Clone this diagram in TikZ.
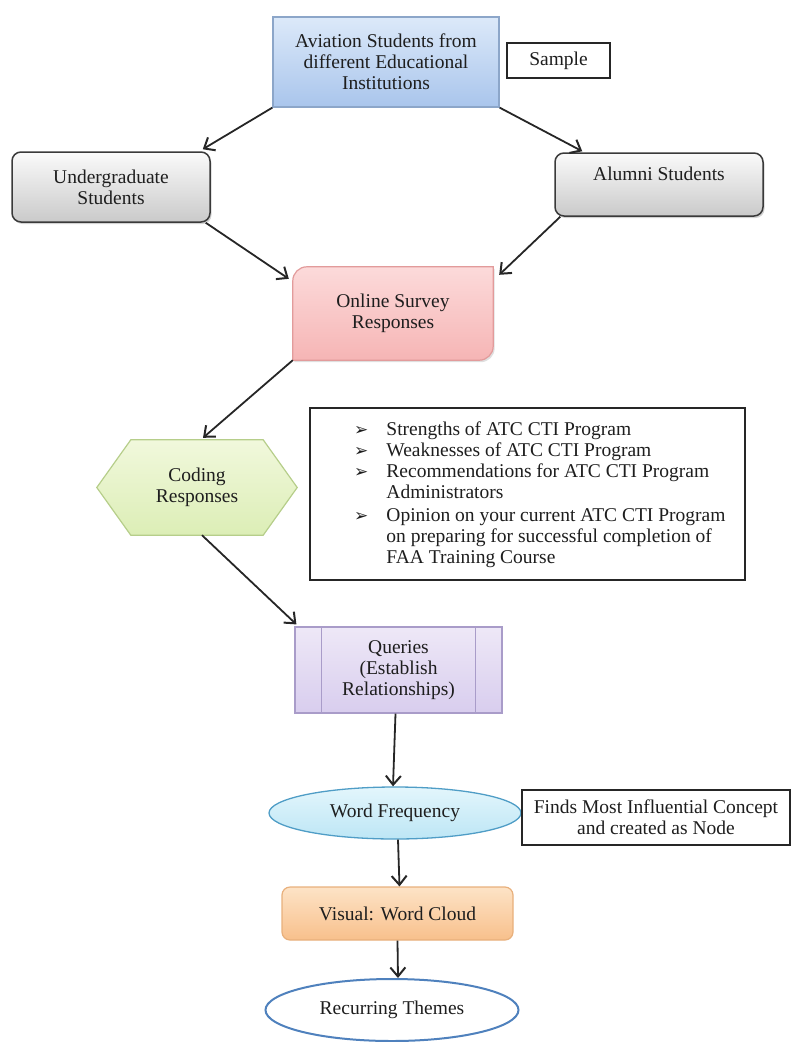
\documentclass[tikz,border=0pt]{standalone}
\usepackage{fontspec}
\setmainfont{Liberation Serif}
\newfontfamily\symfont{DejaVu Sans}
\usetikzlibrary{arrows.meta,shadows,backgrounds,shapes.geometric}
\definecolor{txt}{HTML}{1E1E1E}
\definecolor{avtop}{HTML}{DCE9F9}
\definecolor{avbot}{HTML}{A9C5EC}
\definecolor{avline}{HTML}{8CA6C9}
\definecolor{grtop}{HTML}{FAFAFA}
\definecolor{grbot}{HTML}{CACACA}
\definecolor{grline}{HTML}{3A3A3A}
\definecolor{pktop}{HTML}{FCDADA}
\definecolor{pkbot}{HTML}{F6B5B5}
\definecolor{pkline}{HTML}{E29B9B}
\definecolor{gntop}{HTML}{F1F8DC}
\definecolor{gnbot}{HTML}{DCEEB6}
\definecolor{gnline}{HTML}{B6CE8A}
\definecolor{lvtop}{HTML}{EEE8F7}
\definecolor{lvbot}{HTML}{D8CDEE}
\definecolor{lvline}{HTML}{A99CC9}
\definecolor{cytop}{HTML}{E3F6FC}
\definecolor{cybot}{HTML}{BDE6F5}
\definecolor{cyline}{HTML}{4F9DC6}
\definecolor{pctop}{HTML}{FDE3C6}
\definecolor{pcbot}{HTML}{F8C08C}
\definecolor{pcline}{HTML}{E8B07C}
\definecolor{rcline}{HTML}{4F81BD}
\newcommand{\blt}{{\fontsize{17}{17}\selectfont\symfont ➢}}
\begin{document}
\begin{tikzpicture}[x=1pt,y=1pt,
  font=\fontsize{19.5}{21}\selectfont,
  every node/.style={text=txt},
  base/.style={align=center, inner sep=0pt},
  plainbox/.style={base, draw=black!85, line width=1.2pt, fill=white},
  bluebox/.style={base, draw=avline, line width=1.2pt, top color=avtop, bottom color=avbot},
  greybox/.style={base, draw=grline, line width=1.5pt, rounded corners=9pt, top color=grtop, bottom color=grbot,
     drop shadow={opacity=0.35, shadow xshift=1.5pt, shadow yshift=-2pt}},
  pinkshape/.style={draw=pkline, line width=1.2pt, top color=pktop, bottom color=pkbot},
  greenshape/.style={draw=gnline, line width=1.2pt, top color=gntop, bottom color=gnbot},
  lavbox/.style={base, draw=lvline, line width=1.2pt, top color=lvtop, bottom color=lvbot},
  lavline/.style={draw=lvline, line width=1.2pt},
  cyanell/.style={base, ellipse, draw=cyline, line width=1.3pt, top color=cytop, bottom color=cybot},
  peachbox/.style={base, draw=pcline, line width=1.2pt, rounded corners=8pt, top color=pctop, bottom color=pcbot},
  whiteell/.style={base, ellipse, draw=rcline, line width=2pt, fill=white},
  arr/.style={draw=black!85, line width=1.8pt, -{Straight Barb[length=9pt,width=15pt,line width=2pt]}}
]
\useasboundingbox (0,0) rectangle (791,-1042);

% nodes
\node[bluebox, minimum width=226, minimum height=90] (av) at (386,-62)
  {Aviation Students from\\different Educational\\Institutions};
\node[plainbox, minimum width=103, minimum height=35] (smp) at (558.5,-60.5) {Sample};

\node[greybox, minimum width=198, minimum height=70] (ug) at (111,-187) {Undergraduate\\Students};
\node[greybox, minimum width=208, minimum height=63, text depth=22pt] (al) at (659,-184.5) {Alumni Students};

\node[base, minimum width=200, minimum height=93] (on) at (393,-313.5) {Online Survey\\Responses};
\node[base, minimum width=132, minimum height=95] (cod) at (197,-487.5) {Coding\\Responses};

\node[plainbox, minimum width=435, minimum height=172] (lst) at (527.5,-494) {};
\node[base, anchor=west, align=left] (lsttxt) at (354,-495.5) {%
  \begin{tabular}{@{}l@{\hspace{18pt}}l@{}}
  \blt & Strengths of ATC CTI Program\\
  \blt & Weaknesses of ATC CTI Program\\
  \blt & Recommendations for ATC CTI Program\\
   & Administrators\\[2pt]
  \blt & Opinion on your current ATC CTI Program\\
   & on preparing for successful completion of\\
   & FAA Training Course
  \end{tabular}};

\node[lavbox, minimum width=207, minimum height=86] (qr) at (398.5,-670) {Queries\\(Establish\\Relationships)};
\draw[lavline] ([xshift=27pt]qr.north west) -- ([xshift=27pt]qr.south west);
\draw[lavline] ([xshift=-27pt]qr.north east) -- ([xshift=-27pt]qr.south east);

\node[cyanell, minimum width=252, minimum height=52] (wf) at (395,-813) {Word Frequency};
\node[plainbox, minimum width=268, minimum height=55] (fnd) at (656,-817.5) {Finds Most Influential Concept\\and created as Node};

\node[peachbox, minimum width=231, minimum height=53] (vis) at (397.5,-913.5) {Visual: Word Cloud};
\node[whiteell, minimum width=253, minimum height=62] (rec) at (392,-1010) {Recurring Themes};

% custom shapes on background
\begin{scope}[on background layer]
\path[pinkshape, drop shadow={opacity=0.25, shadow xshift=1.5pt, shadow yshift=-2pt}]
  (on.south west) -- ([yshift=-14pt]on.north west) arc[start angle=180,end angle=90,radius=14pt]
  -- (on.north east) -- ([yshift=14pt]on.south east) arc[start angle=0,end angle=-90,radius=14pt] -- cycle;
\path[greenshape]
  (cod.north west) -- (cod.north east) -- ([xshift=34pt]cod.east) -- (cod.south east)
  -- (cod.south west) -- ([xshift=-34pt]cod.west) -- cycle;
\end{scope}

% connectors
\draw[arr] (av.south west) -- ([xshift=-8pt,yshift=2pt]ug.north east);
\draw[arr] (av.south east) -- ([xshift=28pt,yshift=1pt]al.north west);
\draw[arr] ([xshift=-5pt]ug.south east) -- ([xshift=-4pt,yshift=-12pt]on.north west);
\draw[arr] ([xshift=6pt]al.south west) -- ([xshift=6pt,yshift=-8pt]on.north east);
\draw[arr] (on.south west) -- ([xshift=6pt,yshift=2pt]cod.north);
\draw[arr] ([xshift=5pt]cod.south) -- ([xshift=2pt,yshift=2pt]qr.north west);
\draw[arr] ([xshift=-3pt]qr.south) -- ([xshift=-2pt]wf.north);
\draw[arr] ([xshift=3pt]wf.south) -- ([xshift=2pt]vis.north);
\draw[arr] (vis.south) -- ([xshift=6pt]rec.north);
\end{tikzpicture}
\end{document}
